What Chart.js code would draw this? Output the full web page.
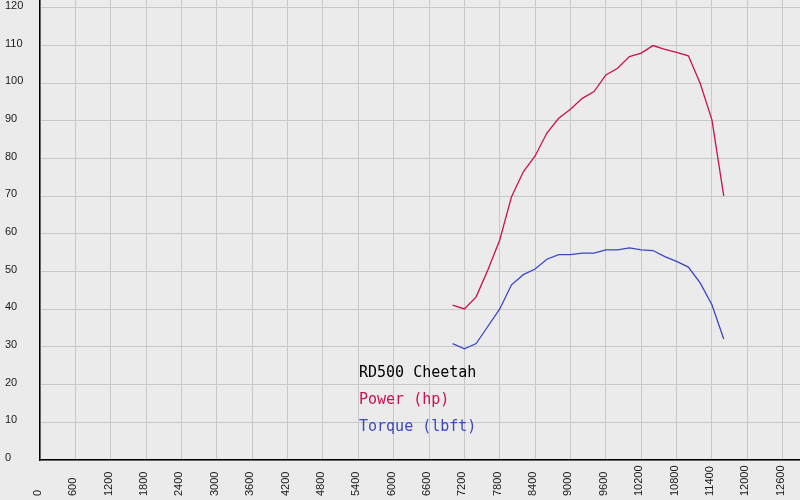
<!DOCTYPE html>
<html>
<head>
<meta charset="utf-8">
<script src="https://cdn.jsdelivr.net/npm/chart.js@4/dist/chart.umd.min.js"></script>
<style>
  body { margin: 0; background: #ebebeb; }
  canvas { display: block; }
</style>
</head>
<body>
<canvas id="dyno" width="800" height="500"></canvas>
<script>
const rpm = [7000, 7200, 7400, 7600, 7800, 8000, 8200, 8400, 8600, 8800, 9000, 9200,
  9400, 9600, 9800, 10000, 10200, 10400, 10600, 10800, 11000, 11200, 11400, 11600];
const power = [41.1, 40.1, 43.3, 50.5, 58.4, 69.9, 76.5, 80.7, 86.8, 90.7, 93.1, 96.0,
  97.8, 102.2, 104.0, 107.1, 108.0, 110.0, 109.0, 108.2, 107.3, 100.0, 90.3, 70.1];
const torque = [30.9, 29.5, 30.9, 35.5, 40.1, 46.5, 49.2, 50.7, 53.3, 54.5, 54.5, 54.9,
  54.9, 55.8, 55.8, 56.3, 55.8, 55.6, 54.0, 52.7, 51.2, 47.0, 41.2, 32.1];

const xTicks = [0, 600, 1200, 1800, 2400, 3000, 3600, 4200, 4800, 5400, 6000, 6600,
  7200, 7800, 8400, 9000, 9600, 10200, 10800, 11400, 12000, 12600];
const yTicks = [0, 10, 20, 30, 40, 50, 60, 70, 80, 90, 100, 110, 120];

const title = "RD500 Cheetah";
const seriesNames = ["Power (hp)", "Torque (lbft)"];
const colors = ["#cc1050", "#3a48c4"];

const toPoints = (vals) => rpm.map((r, i) => ({ x: r, y: vals[i] }));

// tick labels + the little legend block, drawn as text
const labelsPlugin = {
  id: "labels",
  afterDraw(chart) {
    const ctx = chart.ctx;
    const xs = chart.scales.x;
    const ys = chart.scales.y;
    ctx.save();
    ctx.fillStyle = "#1a1a1a";
    ctx.font = "11px 'Liberation Sans'";
    ctx.textAlign = "left";
    ctx.textBaseline = "alphabetic";
    yTicks.forEach((v) => {
      ctx.fillText(String(v), 5, Math.round(ys.getPixelForValue(v)) + 0.5);
    });
    xTicks.forEach((v) => {
      const px = Math.round(xs.getPixelForValue(v)) + 0.5;
      ctx.save();
      ctx.translate(px, 496);
      ctx.rotate(-Math.PI / 2);
      ctx.fillText(String(v), 0, 0);
      ctx.restore();
    });

    ctx.font = "15px 'DejaVu Sans Mono'";
    ctx.fillStyle = "#000";
    ctx.fillText(title, 359, 377);
    seriesNames.forEach((name, i) => {
      ctx.fillStyle = colors[i];
      ctx.fillText(name, 359, 404 + i * 27);
    });
    ctx.restore();
  }
};

new Chart(document.getElementById("dyno"), {
  type: "line",
  data: {
    datasets: [
      {
        label: seriesNames[0],
        data: toPoints(power),
        borderColor: colors[0],
        borderWidth: 1.3,
        pointRadius: 0,
        tension: 0
      },
      {
        label: seriesNames[1],
        data: toPoints(torque),
        borderColor: colors[1],
        borderWidth: 1.3,
        pointRadius: 0,
        tension: 0
      }
    ]
  },
  options: {
    responsive: false,
    animation: false,
    layout: { padding: 0 },
    plugins: {
      legend: { display: false },
      tooltip: { enabled: false }
    },
    scales: {
      x: {
        type: "linear",
        min: 0,
        max: 12894,
        afterBuildTicks: (s) => { s.ticks = xTicks.map((v) => ({ value: v })); },
        afterFit: (s) => { s.height = 40; },
        ticks: { display: false },
        grid: { color: "#c8c8c8", lineWidth: 1, drawTicks: false },
        border: { color: "#000", width: 1.5 }
      },
      y: {
        min: 0,
        max: 122.1,
        afterBuildTicks: (s) => { s.ticks = yTicks.map((v) => ({ value: v })); },
        afterFit: (s) => { s.width = 40; },
        ticks: { display: false },
        grid: { color: "#c8c8c8", lineWidth: 1, drawTicks: false },
        border: { color: "#000", width: 1.5 }
      }
    }
  },
  plugins: [labelsPlugin]
});
</script>
</body>
</html>
